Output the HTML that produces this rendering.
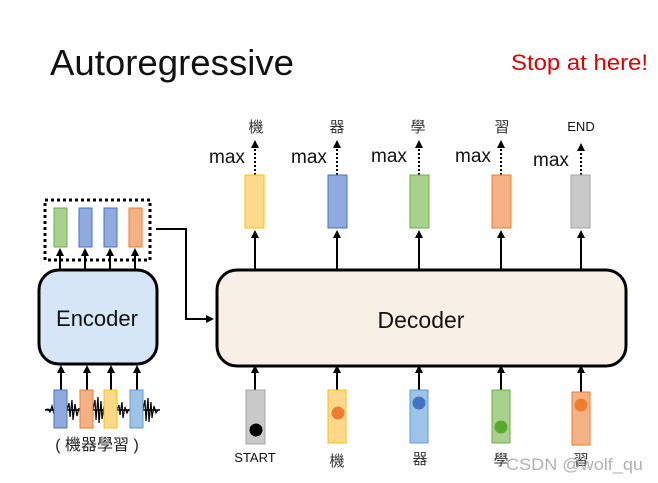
<!DOCTYPE html>
<html><head><meta charset="utf-8"><style>
html,body{margin:0;padding:0;background:#fff;}
svg{display:block;}
text{font-family:"Liberation Sans","Noto Sans CJK TC",sans-serif;}
</style></head><body>
<svg width="658" height="483" viewBox="0 0 658 483" xmlns="http://www.w3.org/2000/svg">
<defs>
<marker id="a" markerWidth="8" markerHeight="8" refX="4" refY="4" orient="auto" markerUnits="userSpaceOnUse">
<path d="M0,0 L8,4 L0,8 z" fill="#000"/></marker>
</defs>
<text x="50" y="75" font-size="36" fill="#111" textLength="244" lengthAdjust="spacingAndGlyphs">Autoregressive</text>
<text x="511" y="70" font-size="22" fill="#e00000" textLength="137" lengthAdjust="spacingAndGlyphs">Stop at here!</text>

<!-- encoder -->
<rect x="45" y="200" width="105" height="60" fill="none" stroke="#000" stroke-width="3" stroke-dasharray="3,3"/>
<rect x="54" y="208" width="13" height="39" fill="#a9d18e" stroke="#70ad47"/>
<rect x="79" y="208" width="13" height="39" fill="#8faadc" stroke="#4472c4"/>
<rect x="104" y="208" width="13" height="39" fill="#8faadc" stroke="#4472c4"/>
<rect x="129" y="208" width="13" height="39" fill="#f4b183" stroke="#ed7d31"/>
<g stroke="#000" stroke-width="2" marker-end="url(#a)">
<line x1="60" y1="269" x2="60" y2="252"/><line x1="85" y1="269" x2="85" y2="252"/>
<line x1="110" y1="269" x2="110" y2="252"/><line x1="135" y1="269" x2="135" y2="252"/>
<line x1="61" y1="390" x2="61" y2="369"/><line x1="87" y1="390" x2="87" y2="369"/>
<line x1="111" y1="390" x2="111" y2="369"/><line x1="137" y1="390" x2="137" y2="369"/>
</g>
<rect x="39" y="270" width="118" height="94" rx="20" fill="#d6e6f7" stroke="#000" stroke-width="3"/>
<text x="97" y="326" font-size="22" text-anchor="middle" fill="#111">Encoder</text>
<path d="M45,410 L48,409 L50,412 L52,406 L54,414 M67,410 L69,403 L70,417 L72,400 L73,420 L75,404 L77,416 L79,408 M93,410 L95,400 L96,420 L98,397 L99,423 L101,401 L102,419 L104,406 M117,410 L119,405 L120,415 L122,402 L123,418 L125,407 L127,413 L129,409 M143,410 L145,400 L146,421 L148,398 L149,422 L151,402 L152,418 L154,406 L156,413 L158,410" fill="none" stroke="#000" stroke-width="1.2"/>
<path d="M45,410 L160,410" stroke="#000" stroke-width="1.5"/>
<rect x="54" y="390" width="13" height="38" fill="#8faadc" stroke="#4472c4"/>
<rect x="80" y="390" width="13" height="38" fill="#f4b183" stroke="#ed7d31"/>
<rect x="104" y="390" width="13" height="38" fill="#ffd98a" stroke="#ffc000"/>
<rect x="130" y="390" width="13" height="38" fill="#9dc3e6" stroke="#5b9bd5"/>
<text x="97" y="450" font-size="16" text-anchor="middle" fill="#222">( 機器學習 )</text>

<!-- connector -->
<path d="M156,229 L186,229 L186,319 L210,319" fill="none" stroke="#000" stroke-width="2" marker-end="url(#a)"/>

<!-- decoder -->
<rect x="217" y="270" width="409" height="96" rx="20" fill="#f8efe6" stroke="#000" stroke-width="3"/>
<text x="421" y="328" font-size="23" text-anchor="middle" fill="#111">Decoder</text>

<!-- outputs -->
<g stroke="#000" stroke-width="2" marker-end="url(#a)">
<line x1="255" y1="270" x2="255" y2="234"/><line x1="337" y1="270" x2="337" y2="234"/>
<line x1="419" y1="270" x2="419" y2="234"/><line x1="501" y1="270" x2="501" y2="234"/>
<line x1="581" y1="270" x2="581" y2="234"/>
</g>
<g stroke="#000" stroke-width="2" stroke-dasharray="2,2" marker-end="url(#a)">
<line x1="255" y1="175" x2="255" y2="144"/><line x1="337" y1="175" x2="337" y2="144"/>
<line x1="419" y1="175" x2="419" y2="144"/><line x1="501" y1="175" x2="501" y2="144"/>
<line x1="581" y1="175" x2="581" y2="147"/>
</g>
<rect x="245" y="175" width="19" height="53" fill="#ffd98a" stroke="#ffc000"/>
<rect x="328" y="175" width="19" height="53" fill="#8faadc" stroke="#4472c4"/>
<rect x="410" y="175" width="19" height="53" fill="#a9d18e" stroke="#70ad47"/>
<rect x="492" y="175" width="19" height="53" fill="#f4b183" stroke="#ed7d31"/>
<rect x="571" y="175" width="19" height="53" fill="#c9c9c9" stroke="#a5a5a5"/>
<g font-size="19" fill="#111">
<text x="209" y="163">max</text><text x="291" y="163">max</text><text x="371" y="162">max</text>
<text x="455" y="162">max</text><text x="533" y="166">max</text>
</g>
<g font-size="15" fill="#333" text-anchor="middle">
<text x="256" y="132">機</text><text x="337" y="132">器</text><text x="418" y="132">學</text><text x="502" y="132">習</text>
</g>
<text x="581" y="131" font-size="13" text-anchor="middle" fill="#111">END</text>

<!-- inputs -->
<g stroke="#000" stroke-width="2" marker-end="url(#a)">
<line x1="255" y1="390" x2="255" y2="369"/><line x1="337" y1="390" x2="337" y2="369"/>
<line x1="419" y1="390" x2="419" y2="369"/><line x1="501" y1="390" x2="501" y2="369"/>
<line x1="581" y1="392" x2="581" y2="369"/>
</g>
<rect x="246" y="390" width="19" height="54" fill="#c9c9c9" stroke="#a5a5a5"/>
<rect x="328" y="390" width="18" height="53" fill="#ffd98a" stroke="#ffc000"/>
<rect x="410" y="390" width="18" height="53" fill="#9dc3e6" stroke="#5b9bd5"/>
<rect x="492" y="390" width="18" height="53" fill="#a9d18e" stroke="#70ad47"/>
<rect x="572" y="392" width="18" height="53" fill="#f4b183" stroke="#ed7d31"/>
<circle cx="256" cy="430" r="6.5" fill="#000"/>
<circle cx="338" cy="413" r="6.5" fill="#ed7d31"/>
<circle cx="419" cy="403" r="6.5" fill="#4472c4"/>
<circle cx="501" cy="427" r="6.5" fill="#5aa832"/>
<circle cx="581" cy="405" r="6.5" fill="#ed7d31"/>
<text x="255" y="462" font-size="13" text-anchor="middle" fill="#111">START</text>
<g font-size="15" fill="#333" text-anchor="middle">
<text x="337" y="466">機</text><text x="420" y="464">器</text><text x="501" y="465">學</text><text x="581" y="465">習</text>
</g>
<text x="506" y="470" font-size="17" fill="#aaa" fill-opacity="0.9" textLength="137" lengthAdjust="spacingAndGlyphs">CSDN @wolf_qu</text>
</svg>
</body></html>
